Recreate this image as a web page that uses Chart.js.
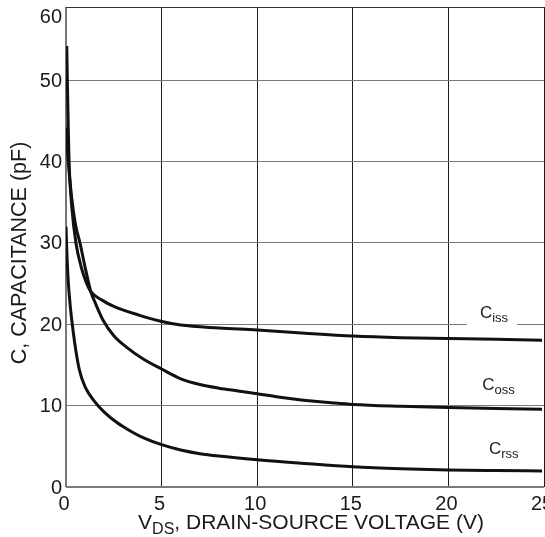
<!DOCTYPE html>
<html><head><meta charset="utf-8">
<script src="https://cdn.jsdelivr.net/npm/chart.js@4"></script>
<style>html,body{margin:0;padding:0;background:#fff;overflow:hidden}#wrap{width:545px;height:537px;position:relative}</style>
</head><body><div id="wrap"><canvas id="c" width="545" height="537"></canvas></div>
<script>
// ---- data ----
const xTicks = [0, 5, 10, 15, 20, 25];
const xTickLabels = ['0', '5', '10', '15', '20', '25'];
const yTicks = [0, 10, 20, 30, 40, 50, 59];
const yTickLabels = ['0', '10', '20', '30', '40', '50', '60'];

const cissV = [0.04, 0.07, 0.12, 0.16, 0.3, 0.52, 0.8, 1.05, 1.3, 1.86, 2.5, 3.85, 4.9, 6.0, 8.0, 10.0, 12.5, 15.0, 17.5, 20.0, 22.5, 24.9];
const cissC = [54.2, 50.0, 44.0, 40.0, 34.5, 30.0, 27.0, 25.2, 24.0, 23.0, 22.2, 21.1, 20.4, 19.9, 19.55, 19.3, 18.9, 18.55, 18.35, 18.25, 18.15, 18.05];

const cossV = [0.0, 0.1, 0.3, 0.5, 0.73, 1.0, 1.3, 1.5, 1.94, 2.5, 3.16, 4.0, 5.0, 6.0, 7.0, 8.0, 9.0, 10.0, 11.0, 12.0, 13.0, 14.0, 15.0, 17.5, 20.0, 22.5, 24.9];
const cossC = [44.2, 40.5, 35.5, 32.2, 30.0, 27.0, 24.0, 22.8, 20.5, 18.6, 17.2, 15.8, 14.5, 13.3, 12.6, 12.15, 11.8, 11.45, 11.1, 10.8, 10.55, 10.33, 10.15, 9.93, 9.78, 9.65, 9.55];

const crssV = [0.0, 0.05, 0.12, 0.22, 0.35, 0.5, 0.7, 1.0, 1.5, 2.0, 2.5, 3.0, 3.5, 4.0, 5.0, 6.0, 7.0, 8.0, 10.0, 12.5, 15.0, 17.5, 20.0, 22.5, 24.9];
const crssC = [32.0, 28.5, 25.2, 22.3, 19.6, 17.0, 14.4, 12.3, 10.5, 9.2, 8.2, 7.4, 6.7, 6.1, 5.2, 4.55, 4.1, 3.8, 3.35, 2.9, 2.5, 2.25, 2.09, 2.02, 1.98];

const curveNames = ['C', 'C', 'C'];
const curveSubs = ['iss', 'oss', 'rss'];
const labelV = [21.65, 21.77, 22.12];
const labelC = [20.8, 11.95, 4.06];

const xTitleMain = 'V';
const xTitleSub = 'DS';
const xTitleRest = ', DRAIN-SOURCE VOLTAGE (V)';
const yTitle = 'C, CAPACITANCE (pF)';

// ---- chart ----
const FONT = '"Liberation Sans", Arial, sans-serif';
const pts = (vs, cs) => vs.map((v, i) => ({ x: v, y: cs[i] }));
const ds = (d) => ({ data: d, borderColor: '#111', borderWidth: 3, pointRadius: 0, fill: false, cubicInterpolationMode: 'monotone' });

const textPlugin = {
  id: 'texts',
  afterDatasetsDraw(chart) {
    const ctx = chart.ctx, xs = chart.scales.x, ys = chart.scales.y, ca = chart.chartArea;
    ctx.save();
    ctx.fillStyle = '#1a1a1a';
    // y tick labels
    ctx.font = '20px ' + FONT;
    ctx.textAlign = 'right';
    ctx.textBaseline = 'middle';
    yTicks.forEach((v, i) => {
      let y = ys.getPixelForValue(v);
      if (i === yTicks.length - 1) y = Math.max(y, ca.top + 9);
      ctx.fillText(yTickLabels[i], ca.left - 4, y + 1);
    });
    // x tick labels
    ctx.textAlign = 'center';
    ctx.textBaseline = 'top';
    xTicks.forEach((v, i) => {
      ctx.fillText(xTickLabels[i], xs.getPixelForValue(v) - 2, ca.bottom + 7);
    });
    // x title
    ctx.textAlign = 'left';
    ctx.textBaseline = 'alphabetic';
    const big = '21px ' + FONT, small = '16px ' + FONT;
    ctx.font = big; const w1 = ctx.measureText(xTitleMain).width; const w3 = ctx.measureText(xTitleRest).width;
    ctx.font = small; const w2 = ctx.measureText(xTitleSub).width;
    let x0 = (ca.left + ca.right) / 2 - (w1 + w2 + w3) / 2 + 6;
    const by = ca.bottom + 42;
    ctx.font = big; ctx.fillText(xTitleMain, x0, by);
    ctx.font = small; ctx.fillText(xTitleSub, x0 + w1, by + 5);
    ctx.font = big; ctx.fillText(xTitleRest, x0 + w1 + w2, by);
    // y title
    ctx.save();
    ctx.translate(26, (ca.top + ca.bottom) / 2 + 6);
    ctx.rotate(-Math.PI / 2);
    ctx.textAlign = 'center';
    ctx.font = '21.5px ' + FONT;
    ctx.fillText(yTitle, 0, 0);
    ctx.restore();
    // curve labels
    curveNames.forEach((n, i) => {
      const x = xs.getPixelForValue(labelV[i]);
      const y = ys.getPixelForValue(labelC[i]);
      ctx.font = '17px ' + FONT; const wm = ctx.measureText(n).width;
      ctx.font = '13px ' + FONT; const ws = ctx.measureText(curveSubs[i]).width;
      if (i === 0) {
        ctx.fillStyle = '#fff';
        ctx.fillRect(x - 13, y - 14, 50, 23);
        ctx.fillStyle = '#1a1a1a';
      }
      ctx.font = '17px ' + FONT; ctx.fillText(n, x, y);
      ctx.font = '13px ' + FONT; ctx.fillText(curveSubs[i], x + wm, y + 4);
    });
    ctx.restore();
  }
};

new Chart(document.getElementById('c'), {
  type: 'line',
  data: { datasets: [ds(pts(cissV, cissC)), ds(pts(cossV, cossC)), ds(pts(crssV, crssC))] },
  options: {
    responsive: false, animation: false, devicePixelRatio: 1,
    layout: { padding: { top: 7, right: 1, left: 0, bottom: 0 } },
    plugins: { legend: { display: false }, tooltip: { enabled: false } },
    scales: {
      x: {
        type: 'linear', min: 0, max: 25,
        afterBuildTicks: s => { s.ticks = xTicks.map(v => ({ value: v })); },
        afterFit: s => { s.height = 50; },
        ticks: { display: false },
        border: { display: false },
        grid: {
          drawTicks: false,
          color: c => c.tick && c.tick.value === 0 ? '#777' : '#1a1a1a',
          lineWidth: c => c.tick && c.tick.value === 0 ? 2 : 1
        }
      },
      y: {
        type: 'linear', min: 0, max: 59,
        afterBuildTicks: s => { s.ticks = yTicks.map(v => ({ value: v })); },
        afterFit: s => { s.width = 66; },
        ticks: { display: false },
        border: { display: false },
        grid: {
          drawTicks: false,
          color: c => c.tick && c.tick.value === 59 ? '#333' : '#7a7a7a',
          lineWidth: c => c.tick && c.tick.value === 0 ? 2 : 1
        }
      }
    }
  },
  plugins: [textPlugin]
});
</script>
</body></html>
